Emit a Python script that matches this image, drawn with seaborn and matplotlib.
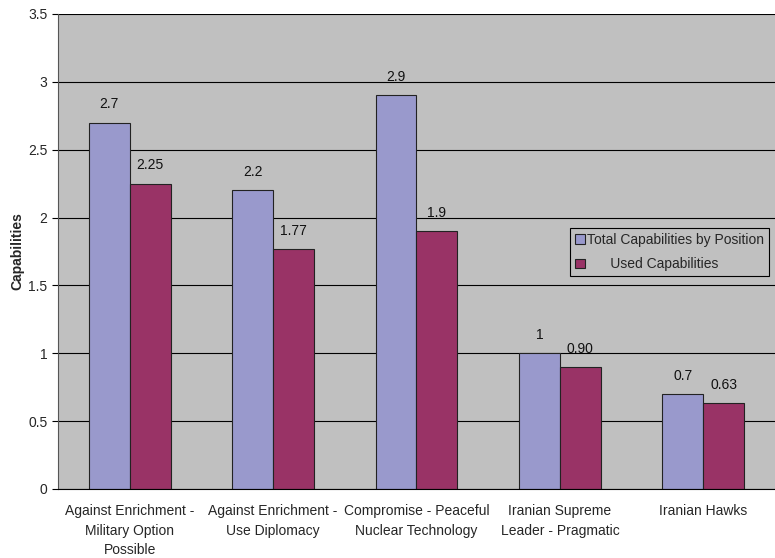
import pandas as pd
import matplotlib.pyplot as plt
import seaborn as sns

categories = ["Against Enrichment -\nMilitary Option\nPossible",
              "Against Enrichment -\nUse Diplomacy",
              "Compromise - Peaceful\nNuclear Technology",
              "Iranian Supreme\nLeader - Pragmatic",
              "Iranian Hawks"]
total_caps = [2.7, 2.2, 2.9, 1.0, 0.7]
used_caps = [2.25, 1.77, 1.9, 0.90, 0.63]
total_labels = ["2.7", "2.2", "2.9", "1", "0.7"]
used_labels = ["2.25", "1.77", "1.9", "0.90", "0.63"]
series = ["Total Capabilities by Position", "      Used Capabilities"]

df = pd.DataFrame({
    "category": categories * 2,
    "value": total_caps + used_caps,
    "series": [series[0]] * 5 + [series[1]] * 5,
})

sns.set_style("white")
plt.rcParams['font.family'] = ['Liberation Sans', 'DejaVu Sans']

fig = plt.figure(figsize=(7.75, 5.58), dpi=100)
ax = fig.add_axes([0.0748, 0.1237, 0.9252, 0.8513])
ax.set_facecolor("#C0C0C0")

sns.barplot(data=df, x="category", y="value", hue="series", ax=ax,
            palette=["#9999CC", "#993366"], width=0.57,
            edgecolor="#222222", linewidth=0.8, saturation=1)

ax.set_ylim(0, 3.5)
ax.set_xlim(-0.5, 4.5)
ax.set_yticks([0, 0.5, 1, 1.5, 2, 2.5, 3, 3.5])
ax.set_yticklabels(["0", "0.5", "1", "1.5", "2", "2.5", "3", "3.5"], fontsize=10)
ax.yaxis.grid(True, color="black", linewidth=0.8)
ax.set_axisbelow(True)

# value labels
for cont, labs in zip(ax.containers, [total_labels, used_labels]):
    ax.bar_label(cont, labels=labs, padding=8, fontsize=10, color="#111111")

ax.set_xlabel("")
ax.set_ylabel("Capabilities", fontsize=10, fontweight="bold", labelpad=3)
ax.tick_params(axis="x", length=0, labelsize=10, pad=11)
for t in ax.get_xticklabels():
    t.set_linespacing(1.5)
ax.set_xticks([-0.5, 0.5, 1.5, 2.5, 3.5, 4.5], minor=True)
ax.tick_params(axis="x", which="minor", length=5, color="black", width=0.8)
ax.tick_params(axis="y", length=4, color="black", width=0.8, left=True)

for s in ["top", "right"]:
    ax.spines[s].set_visible(False)
ax.spines["left"].set_color("#555555")
ax.spines["bottom"].set_color("black")

leg = ax.legend(loc="upper left", bbox_to_anchor=(0.714, 0.549), fontsize=10,
                frameon=True, fancybox=False, edgecolor="black",
                facecolor="#C0C0C0", framealpha=1, handlelength=0.7,
                handleheight=0.7, handletextpad=0.2, borderpad=0.35,
                labelspacing=0.75, borderaxespad=0)
leg.get_frame().set_linewidth(0.8)

fig.savefig("out.png", dpi=100)
